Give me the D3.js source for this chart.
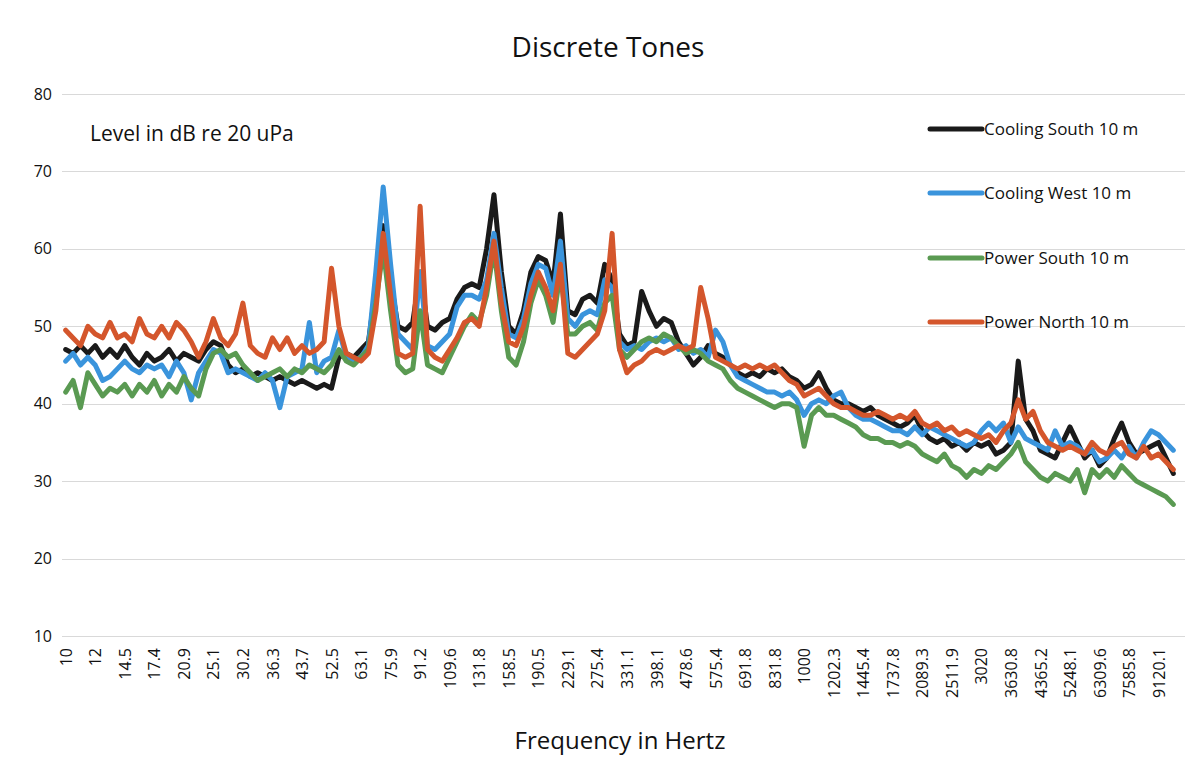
<!DOCTYPE html>
<meta charset="utf-8">
<style>
  body { margin: 0; background: #fff; }
  text { font-family: "Open Sans", "Noto Sans", sans-serif; fill: #111; }
  .grid line { stroke: #d9d9d9; stroke-width: 1; }
  .series { fill: none; stroke-width: 5; stroke-linejoin: round; stroke-linecap: round; }
</style>
<body>
<script src="https://d3js.org/d3.v7.min.js"></script>
<script>

  // frequency bands (Hz), one point every 1/50 decade
  const freqs = [
    10, 10.5, 11, 11.5, 12, 12.6, 13.2, 13.8, 14.5, 15.1, 15.8, 16.6, 17.4, 18.2, 19.1, 20, 20.9, 21.9, 22.9, 24,
    25.1, 26.3, 27.5, 28.8, 30.2, 31.6, 33.1, 34.7, 36.3, 38, 39.8, 41.7, 43.7, 45.7, 47.9, 50.1, 52.5, 55, 57.5, 60.3,
    63.1, 66.1, 69.2, 72.4, 75.9, 79.4, 83.2, 87.1, 91.2, 95.5, 100, 104.7, 109.6, 114.8, 120.2, 125.9, 131.8, 138, 144.5, 151.4,
    158.5, 166, 173.8, 182, 190.5, 199.5, 208.9, 218.8, 229.1, 239.9, 251.2, 263, 275.4, 288.4, 302, 316.2, 331.1, 346.7, 363.1, 380.2,
    398.1, 416.9, 436.5, 457.1, 478.6, 501.2, 524.8, 549.5, 575.4, 602.6, 631, 660.7, 691.8, 724.4, 758.6, 794.3, 831.8, 871, 912, 955,
    1000, 1047.1, 1096.5, 1148.2, 1202.3, 1258.9, 1318.3, 1380.4, 1445.4, 1513.6, 1584.9, 1659.6, 1737.8, 1819.7, 1905.5, 1995.3, 2089.3, 2187.8, 2290.9, 2398.8,
    2511.9, 2630.3, 2754.2, 2884, 3020, 3162.3, 3311.3, 3467.4, 3630.8, 3801.9, 3981.1, 4168.7, 4365.2, 4570.9, 4786.3, 5011.9, 5248.1, 5495.4, 5754.4, 6025.6,
    6309.6, 6606.9, 6918.3, 7244.4, 7585.8, 7943.3, 8317.6, 8709.6, 9120.1, 9549.9, 10000
  ];

  const coolingSouth = [
    47, 46.5, 47.5, 46.5, 47.5, 46, 47, 46, 47.5, 46, 45, 46.5, 45.5, 46, 47, 45.5, 46.5, 46, 45.5, 47,
    48, 47.5, 45, 44, 44.5, 43.5, 44, 43.5, 43, 43.5, 43, 42.5, 43, 42.5, 42, 42.5, 42, 46, 46.5, 46,
    47, 48, 55, 63, 56, 50, 49.5, 50.5, 57, 50, 49.5, 50.5, 51, 53.5, 55, 55.5, 55, 60, 67, 57,
    50, 49, 52, 57, 59, 58.5, 55.5, 64.5, 52, 51.5, 53.5, 54, 53, 58, 56, 49, 47.5, 48, 54.5, 52,
    50, 51, 50.5, 48, 46.5, 45, 46, 47.5, 46.5, 46, 45, 44, 43.5, 44, 43.5, 44.5, 44, 44.5, 43.5, 43,
    42, 42.5, 44, 42, 40.5, 40, 40, 39.5, 39, 39.5, 38.5, 38, 37.5, 37, 37.5, 38.5, 36.5, 35.5, 35, 35.5,
    34.5, 35, 34, 35, 34.5, 35, 33.5, 34, 35, 45.5, 38, 36.5, 34, 33.5, 33, 35, 37, 35, 33, 34,
    32, 33, 35.5, 37.5, 35, 33.5, 34, 34.5, 35, 33, 31
  ];

  const coolingWest = [
    45.5, 46.5, 45, 46, 45, 43, 43.5, 44.5, 45.5, 44.5, 44, 45, 44.5, 45, 43.5, 45.5, 44, 40.5, 44, 45.5,
    47, 46.5, 44, 44.5, 44, 43.5, 43, 44, 43, 39.5, 43.5, 44, 44.5, 50.5, 44, 45.5, 46, 49.5, 46, 45.5,
    46, 47.5, 57, 68, 58, 49, 48, 47, 57, 47.5, 47, 48, 49, 52.5, 54, 54, 53.5, 56, 62, 55,
    49, 48.5, 51, 55.5, 58, 57.5, 54, 61, 51, 50, 51.5, 52, 51.5, 56, 55, 48, 47, 47.5, 47, 48,
    48.5, 48, 48.5, 47, 47.5, 46.5, 47, 46, 49.5, 48, 45, 43.5, 43, 42.5, 42, 41.5, 41.5, 41, 41.5, 40.5,
    38.5, 40, 40.5, 40, 41, 41.5, 39.5, 38.5, 38, 38, 37.5, 37, 36.5, 36.5, 36, 37, 36, 37, 36.5, 36,
    35.5, 35, 34.5, 35, 36.5, 37.5, 36.5, 37.5, 35, 37, 35.5, 35, 34.5, 34, 36.5, 34.5, 35, 34.5, 33.5, 34,
    32.5, 33, 34, 33, 34.5, 33, 35, 36.5, 36, 35, 34
  ];

  const powerSouth = [
    41.5, 43, 39.5, 44, 42.5, 41, 42, 41.5, 42.5, 41, 42.5, 41.5, 43, 41, 42.5, 41.5, 43.5, 42, 41, 44.5,
    46.5, 47, 46, 46.5, 45, 44, 43, 43.5, 44, 44.5, 43.5, 44.5, 44, 45, 44.5, 44, 45, 47, 45.5, 45,
    46, 47, 53, 60, 52, 45, 44, 44.5, 52, 45, 44.5, 44, 46, 48, 50, 51.5, 50.5, 54, 60, 52,
    46, 45, 48, 53, 56, 54, 50.5, 57, 49, 49, 50, 50.5, 49.5, 53, 54, 47, 46, 47, 48, 48.5,
    48, 49, 48.5, 47.5, 46.5, 47, 46.5, 45.5, 45, 44.5, 43, 42, 41.5, 41, 40.5, 40, 39.5, 40, 40, 39.5,
    34.5, 38.5, 39.5, 38.5, 38.5, 38, 37.5, 37, 36, 35.5, 35.5, 35, 35, 34.5, 35, 34.5, 33.5, 33, 32.5, 33.5,
    32, 31.5, 30.5, 31.5, 31, 32, 31.5, 32.5, 33.5, 35, 32.5, 31.5, 30.5, 30, 31, 30.5, 30, 31.5, 28.5, 31.5,
    30.5, 31.5, 30.5, 32, 31, 30, 29.5, 29, 28.5, 28, 27
  ];

  const powerNorth = [
    49.5, 48.5, 47.5, 50, 49, 48.5, 50.5, 48.5, 49, 48, 51, 49, 48.5, 50, 48.5, 50.5, 49.5, 48, 46, 48,
    51, 48.5, 47.5, 49, 53, 47.5, 46.5, 46, 48.5, 47, 48.5, 46.5, 47.5, 46.5, 47, 48, 57.5, 50, 46.5, 46,
    45.5, 46.5, 52, 62, 54, 46.5, 46, 46.5, 65.5, 47, 46, 45.5, 47, 48.5, 50.5, 51, 50, 55, 61, 53,
    48, 47.5, 50, 54, 57, 55, 52, 58, 46.5, 46, 47, 48, 49, 52, 62, 47, 44, 45, 45.5, 46.5,
    47, 46.5, 47, 47.5, 47, 47.5, 55, 51, 46, 45.5, 45, 44.5, 45, 44.5, 45, 44.5, 45, 44, 43, 42.5,
    41, 41.5, 42, 41, 40, 39.5, 39.5, 39, 38.5, 38.5, 39, 38.5, 38, 38.5, 38, 39, 37.5, 37, 37.5, 36.5,
    37, 36, 36.5, 36, 35.5, 36, 35, 36.5, 37.5, 40.5, 38, 39, 36.5, 35, 34.5, 34, 34.5, 34, 33.5, 35,
    34, 33.5, 34.5, 35, 33.5, 33, 34.5, 33, 33.5, 32.5, 31.5
  ];

  const seriesNames = ["Cooling South 10 m", "Cooling West 10 m", "Power South 10 m", "Power North 10 m"];
  const seriesColors = ["#1a1a1a", "#3a94dc", "#5a9a52", "#d4562c"];
  const seriesValues = [coolingSouth, coolingWest, powerSouth, powerNorth];

  const yTicks = [10, 20, 30, 40, 50, 60, 70, 80];

  const width = 1203;
  const height = 776;
  const plot = { left: 62, right: 1185, top: 94, bottom: 636 };

  const svg = d3
    .select("body")
    .append("svg")
    .attr("width", width)
    .attr("height", height);

  const x = d3.scaleLinear().domain([-0.5, freqs.length - 0.5]).range([62, 1177]);
  const y = d3.scaleLinear().domain([10, 80]).range([plot.bottom, plot.top]);

  // horizontal gridlines
  svg.append("g")
    .attr("class", "grid")
    .selectAll("line")
    .data(yTicks)
    .join("line")
    .attr("x1", plot.left)
    .attr("x2", plot.right)
    .attr("y1", d => Math.round(y(d)) + 0.5)
    .attr("y2", d => Math.round(y(d)) + 0.5);

  // y axis labels
  const yAxis = svg.append("g")
    .attr("transform", `translate(${plot.left},0)`)
    .call(d3.axisLeft(y).tickValues(yTicks).tickSize(0).tickPadding(10));
  yAxis.select(".domain").remove();
  yAxis.selectAll("text").style("font-size", "16px").style("font-family", null);

  // x axis labels, every 4th band
  const labelIdx = d3.range(0, freqs.length, 4);
  const xAxis = svg.append("g")
    .attr("transform", `translate(0,${plot.bottom})`)
    .call(d3.axisBottom(x).tickValues(labelIdx).tickFormat(i => String(freqs[i])).tickSize(0));
  xAxis.select(".domain").remove();
  xAxis.selectAll("text")
    .style("font-size", "16px")
    .style("font-family", null)
    .attr("text-anchor", "end")
    .attr("transform", "rotate(-90)")
    .attr("x", -12)
    .attr("y", 0)
    .attr("dy", "0.35em");

  // series lines
  const line = d3.line()
    .x((d, i) => x(i))
    .y(d => y(d));

  svg.append("g")
    .selectAll("path")
    .data(seriesValues)
    .join("path")
    .attr("class", "series")
    .attr("stroke", (d, i) => seriesColors[i])
    .attr("d", line);

  // title and annotations
  svg.append("text")
    .attr("x", 608)
    .attr("y", 57)
    .attr("text-anchor", "middle")
    .style("font-size", "28px")
    .text("Discrete Tones");

  svg.append("text")
    .attr("x", 90)
    .attr("y", 141)
    .style("font-size", "21px")
    .text("Level in dB re 20 uPa");

  svg.append("text")
    .attr("x", 620)
    .attr("y", 749)
    .attr("text-anchor", "middle")
    .style("font-size", "24px")
    .text("Frequency in Hertz");

  // legend
  const legendY = [129, 193, 258, 322];
  const legend = svg.append("g")
    .selectAll("g")
    .data(seriesNames)
    .join("g")
    .attr("transform", (d, i) => `translate(930,${legendY[i]})`);

  legend.append("line")
    .attr("x1", 0)
    .attr("x2", 52)
    .attr("stroke", (d, i) => seriesColors[i])
    .attr("stroke-width", 5)
    .attr("stroke-linecap", "round");

  legend.append("text")
    .attr("x", 54)
    .attr("dy", "0.35em")
    .style("font-size", "17px")
    .text(d => d);

</script>
</body>
